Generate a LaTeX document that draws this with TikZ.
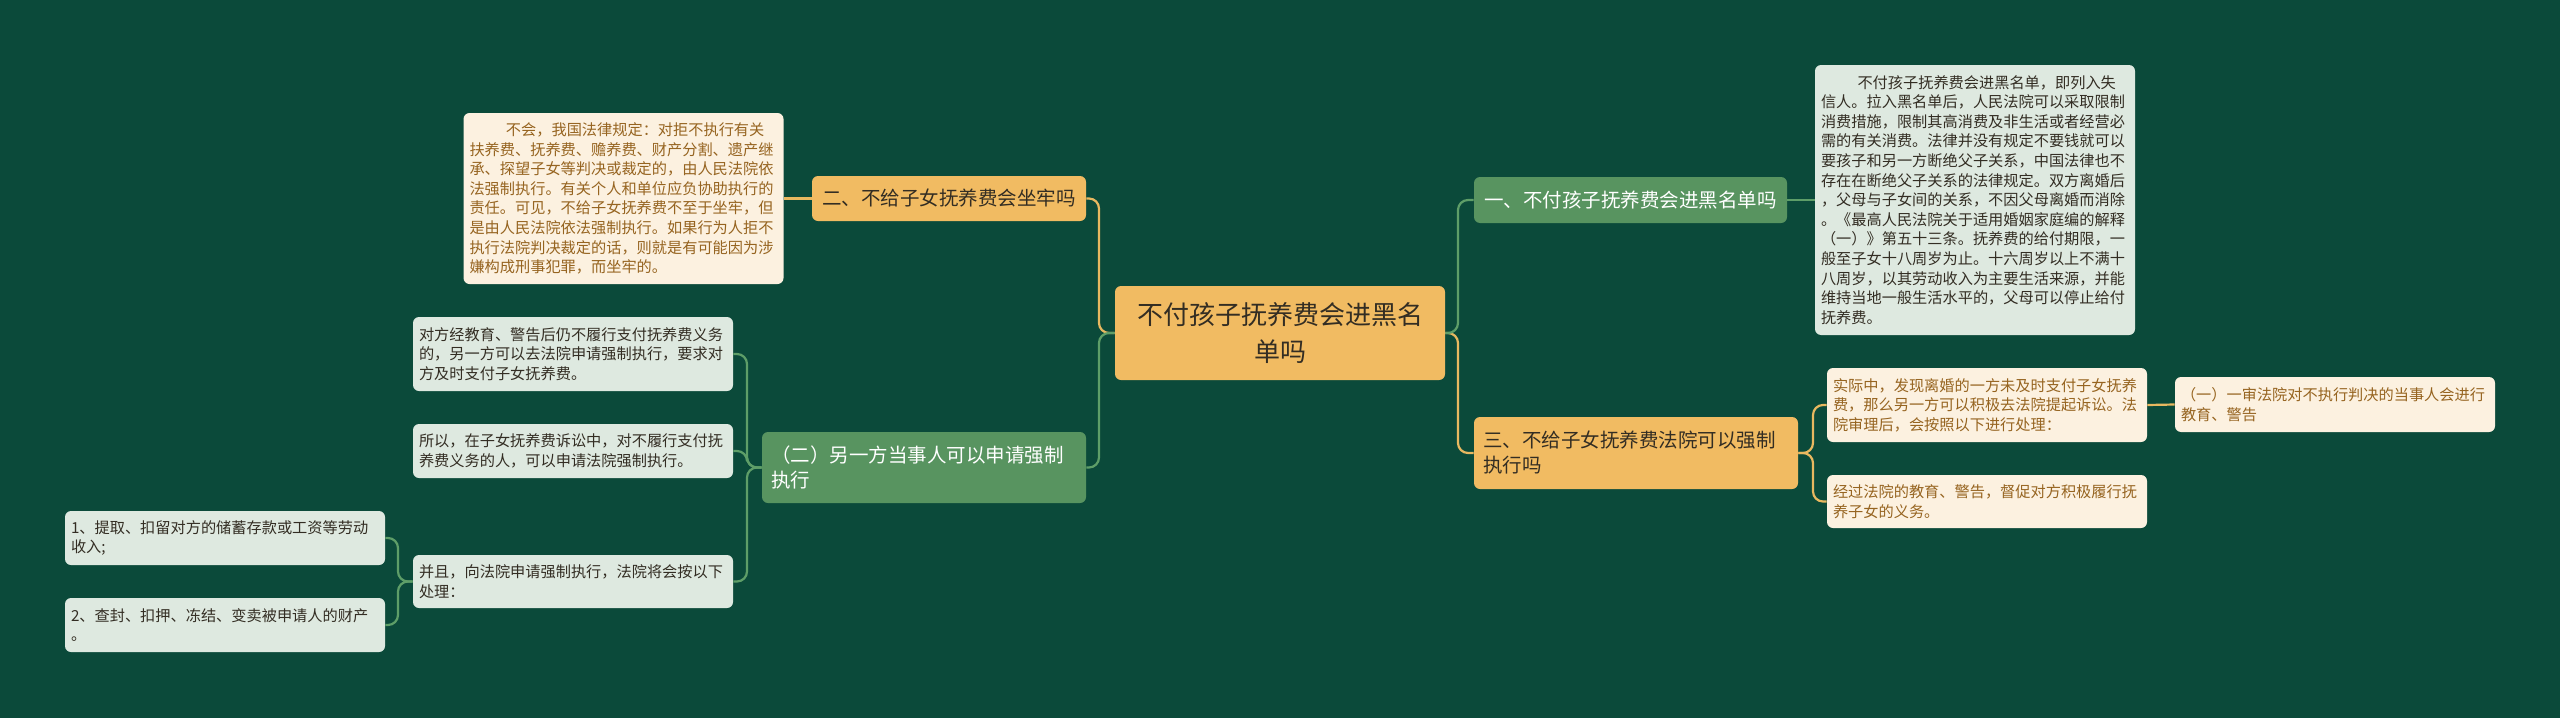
\documentclass[tikz,border=0pt]{standalone}
\usepackage{fontspec}
\newfontfamily\cjk{Noto Sans CJK SC}
\definecolor{bgdark}{RGB}{11,74,58}
\definecolor{orangefill}{RGB}{241,187,98}
\definecolor{greenfill}{RGB}{88,148,96}
\definecolor{greennotefill}{RGB}{222,233,224}
\definecolor{creamfill}{RGB}{252,241,224}
\definecolor{browntext}{RGB}{150,100,32}
\definecolor{darktext}{RGB}{51,45,35}
\definecolor{orangeline}{RGB}{232,184,96}
\definecolor{greenline}{RGB}{94,158,104}
\tikzset{
  box/.style={rounded corners=3pt, inner ysep=0pt},
  rootbox/.style={box, fill=orangefill, text=darktext, minimum width=165pt, minimum height=47pt,
    align=center, font=\cjk\fontsize{13pt}{18.5pt}\selectfont},
  branchbox/.style={box, inner xsep=4.5pt, font=\cjk\fontsize{9.75pt}{12.5pt}\selectfont},
  greenbranch/.style={branchbox, fill=greenfill, text=white},
  orangebranch/.style={branchbox, fill=orangefill, text=darktext},
  notebox/.style={box, inner xsep=3pt, text width=154pt, align=left,
    font=\cjk\fontsize{7.6pt}{9.8pt}\selectfont},
  greennote/.style={notebox, fill=greennotefill, text=darktext},
  creamnote/.style={notebox, fill=creamfill, text=browntext},
  greenlink/.style={draw=greenline, line width=1.1pt, rounded corners=5pt},
  orangelink/.style={draw=orangeline, line width=1.1pt, rounded corners=5pt}
}
\begin{document}
\begin{tikzpicture}[x=0.5pt,y=-0.5pt]
    % background
    \fill[bgdark] (0,0) rectangle (2560,718);
    \useasboundingbox (0,0) rectangle (2560,718);

    % centre topic
    \node[rootbox] (root) at (1280,333) {不付孩子抚养费会进黑名\\单吗};

    % right side
    \node[greenbranch, minimum width=156.5pt, minimum height=23pt] (blist) at (1630.5,200)
        {一、不付孩子抚养费会进黑名单吗};
    \node[greennote, minimum height=135pt] (nlist) at (1975,200)
        {\hspace*{2.4em}不付孩子抚养费会进黑名单，即列入失\\
         信人。拉入黑名单后，人民法院可以采取限制\\
         消费措施，限制其高消费及非生活或者经营必\\
         需的有关消费。法律并没有规定不要钱就可以\\
         要孩子和另一方断绝父子关系，中国法律也不\\
         存在在断绝父子关系的法律规定。双方离婚后\\
         ，父母与子女间的关系，不因父母离婚而消除\\
         。《最高人民法院关于适用婚姻家庭编的解释\\
         （一）》第五十三条。抚养费的给付期限，一\\
         般至子女十八周岁为止。十六周岁以上不满十\\
         八周岁，以其劳动收入为主要生活来源，并能\\
         维持当地一般生活水平的，父母可以停止给付\\
         抚养费。};

    \node[orangebranch, text width=153pt, align=left, minimum height=36pt] (bforce) at (1636,453)
        {三、不给子女抚养费法院可以强制\\执行吗};
    \node[creamnote, minimum height=37pt] (nsue) at (1987,405)
        {实际中，发现离婚的一方未及时支付子女抚养\\
         费，那么另一方可以积极去法院提起诉讼。法\\
         院审理后，会按照以下进行处理：};
    \node[creamnote, minimum height=26.5pt] (nwarn) at (1987,501.5)
        {经过法院的教育、警告，督促对方积极履行抚\\养子女的义务。};
    \node[creamnote, minimum height=27.5pt] (nfirst) at (2335,404.5)
        {（一）一审法院对不执行判决的当事人会进行\\教育、警告};

    % left side
    \node[orangebranch, minimum width=137pt, minimum height=22.5pt] (bjail) at (949,198.5)
        {二、不给子女抚养费会坐牢吗};
    \node[creamnote, minimum height=85.5pt] (njail) at (623.5,198.5)
        {\hspace*{2.4em}不会，我国法律规定：对拒不执行有关\\
         扶养费、抚养费、赡养费、财产分割、遗产继\\
         承、探望子女等判决或裁定的，由人民法院依\\
         法强制执行。有关个人和单位应负协助执行的\\
         责任。可见，不给子女抚养费不至于坐牢，但\\
         是由人民法院依法强制执行。如果行为人拒不\\
         执行法院判决裁定的话，则就是有可能因为涉\\
         嫌构成刑事犯罪，而坐牢的。};

    \node[greenbranch, text width=153pt, align=left, minimum height=35.5pt] (bapply) at (924,467.5)
        {（二）另一方当事人可以申请强制\\执行};
    \node[greennote, minimum height=37pt] (nrefuse) at (573,354)
        {对方经教育、警告后仍不履行支付抚养费义务\\
         的，另一方可以去法院申请强制执行，要求对\\
         方及时支付子女抚养费。};
    \node[greennote, minimum height=27pt] (nso) at (573,451)
        {所以，在子女抚养费诉讼中，对不履行支付抚\\养费义务的人，可以申请法院强制执行。};
    \node[greennote, minimum height=26.5pt] (nand) at (573,581.5)
        {并且，向法院申请强制执行，法院将会按以下\\处理：};
    \node[greennote, minimum height=27pt] (nwage) at (225,538)
        {1、提取、扣留对方的储蓄存款或工资等劳动\\收入;};
    \node[greennote, minimum height=27pt] (nseize) at (225,625)
        {2、查封、扣押、冻结、变卖被申请人的财产\\。};

    % junctions
    \coordinate (jleft) at (1099,333);
    \coordinate (jright) at (1458,333);
    \coordinate (jforce) at (1813,453);
    \coordinate (japply) at (747,467.5);
    \coordinate (jand) at (398,581.5);

    % connectors
    \draw[orangelink] (root.west) -- (jleft) |- (bjail.east);
    \draw[greenlink] (root.west) -- (jleft) |- (bapply.east);
    \draw[orangelink] (root.east) -- (jright) |- (bforce.west);
    \draw[greenlink] (root.east) -- (jright) |- (blist.west);
    \draw[greenlink] (blist.east) -- (nlist.west);
    \draw[orangelink] (bjail.west) -- (njail.east);
    \draw[orangelink] (bforce.east) -- (jforce) |- (nsue.west);
    \draw[orangelink] (bforce.east) -- (jforce) |- (nwarn.west);
    \draw[orangelink] (nsue.east) -- (nfirst.west);
    \draw[greenlink] (bapply.west) -- (japply) |- (nrefuse.east);
    \draw[greenlink] (bapply.west) -- (japply) |- (nso.east);
    \draw[greenlink] (bapply.west) -- (japply) |- (nand.east);
    \draw[greenlink] (nand.west) -- (jand) |- (nwage.east);
    \draw[greenlink] (nand.west) -- (jand) |- (nseize.east);
\end{tikzpicture}
\end{document}
